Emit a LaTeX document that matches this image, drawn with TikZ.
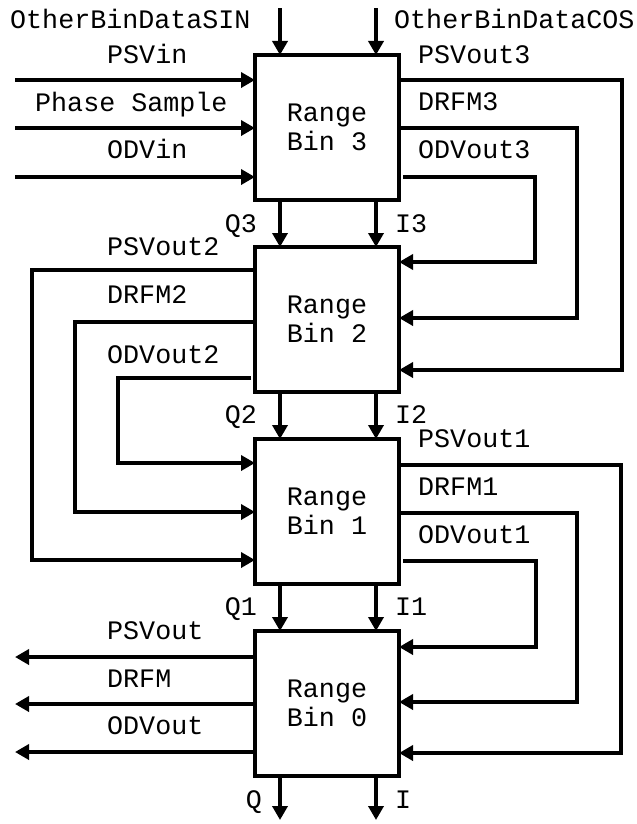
\documentclass[tikz,border=0pt]{standalone}
\usepackage{fontspec}
\setmonofont{Liberation Mono}
\usetikzlibrary{arrows,%
                arrows.meta}
\tikzstyle{rbin}=[rectangle, draw, line width=4bp, minimum width=144bp, minimum height=145bp, inner sep=0pt, outer sep=0pt, align=center, font=\ttfamily\fontsize{26.7bp}{29bp}\selectfont]
\tikzstyle{sig}=[line width=3.6bp, -{Triangle[length=14bp,width=15bp]}]
\tikzstyle{lbl}=[inner sep=0pt, font=\ttfamily\fontsize{26.7bp}{29bp}\selectfont]

\begin{document}
\begin{tikzpicture}[x=1bp,y=-1bp]
  \useasboundingbox (0,0) rectangle (637,824);
  \node[rbin] (rb3) at (327,127.5) {Range\\Bin 3};
  \node[rbin] (rb2) at (327,319.5) {Range\\Bin 2};
  \node[rbin] (rb1) at (327,511.5) {Range\\Bin 1};
  \node[rbin] (rb0) at (327,703.5) {Range\\Bin 0};

  \coordinate (sin) at (280,8);
  \coordinate (cos) at (376,8);
  \coordinate (qout) at (280,820);
  \coordinate (iout) at (376,820);
  \coordinate (psvin) at (15,80);
  \coordinate (phin) at (15,128);
  \coordinate (odvin) at (15,177);
  \coordinate (psvout) at (15,657);
  \coordinate (drfmout) at (15,704);
  \coordinate (odvout) at (15,752);

  % Q and I chain
  \draw[sig] (sin) -- (sin |- rb3.north);
  \draw[sig] (cos) -- (cos |- rb3.north);
  \draw[sig] (rb3.south -| sin) -- (rb2.north -| sin);
  \draw[sig] (rb3.south -| cos) -- (rb2.north -| cos);
  \draw[sig] (rb2.south -| sin) -- (rb1.north -| sin);
  \draw[sig] (rb2.south -| cos) -- (rb1.north -| cos);
  \draw[sig] (rb1.south -| sin) -- (rb0.north -| sin);
  \draw[sig] (rb1.south -| cos) -- (rb0.north -| cos);
  \draw[sig] (rb0.south -| qout) -- (qout);
  \draw[sig] (rb0.south -| iout) -- (iout);

  \draw[sig] (psvin) -- (psvin -| rb3.west);
  \draw[sig] (phin) -- (phin -| rb3.west);
  \draw[sig] (odvin) -- (odvin -| rb3.west);

  \draw[sig] (rb3.east |- 0,80) -| (622,370) -- (rb2.east |- 0,370);
  \draw[sig] (rb3.east |- 0,128) -| (577,318) -- (rb2.east |- 0,318);
  \draw[sig, shorten <=4bp] (rb3.east |- 0,177) -| (535,262) -- (rb2.east |- 0,262);

  \draw[sig] (rb2.west |- 0,270) -| (32,560) -- (rb1.west |- 0,560);
  \draw[sig] (rb2.west |- 0,322) -| (75,512) -- (rb1.west |- 0,512);
  \draw[sig, shorten <=4bp] (rb2.west |- 0,378) -| (118,463) -- (rb1.west |- 0,463);

  \draw[sig] (rb1.east |- 0,465) -| (621,753) -- (rb0.east |- 0,753);
  \draw[sig] (rb1.east |- 0,513) -| (577,702) -- (rb0.east |- 0,702);
  \draw[sig, shorten <=4bp] (rb1.east |- 0,561) -| (536,647) -- (rb0.east |- 0,647);

  \draw[sig] (psvout -| rb0.west) -- (psvout);
  \draw[sig] (drfmout -| rb0.west) -- (drfmout);
  \draw[sig] (odvout -| rb0.west) -- (odvout);

  \node[lbl, anchor=base west] (tsin) at (10,28) {OtherBinDataSIN};
  \node[lbl, anchor=base west] (tcos) at (394,28) {OtherBinDataCOS};
  \node[lbl, anchor=base west] (tpsvin) at (107,63) {PSVin};
  \node[lbl, anchor=base west] (tphase) at (35,111) {Phase Sample};
  \node[lbl, anchor=base west] (todvin) at (107,158) {ODVin};
  \node[lbl, anchor=base west] (tpsv3) at (418,63) {PSVout3};
  \node[lbl, anchor=base west] (tdrfm3) at (418,110) {DRFM3};
  \node[lbl, anchor=base west] (todv3) at (418,158) {ODVout3};
  \node[lbl, anchor=base east] (tq3) at (257,232) {Q3};
  \node[lbl, anchor=base west] (ti3) at (395,232) {I3};
  \node[lbl, anchor=base west] (tpsv2) at (107,255) {PSVout2};
  \node[lbl, anchor=base west] (tdrfm2) at (107,303) {DRFM2};
  \node[lbl, anchor=base west] (todv2) at (107,363) {ODVout2};
  \node[lbl, anchor=base east] (tq2) at (257,423) {Q2};
  \node[lbl, anchor=base west] (ti2) at (395,423) {I2};
  \node[lbl, anchor=base west] (tpsv1) at (418,447) {PSVout1};
  \node[lbl, anchor=base west] (tdrfm1) at (418,495) {DRFM1};
  \node[lbl, anchor=base west] (todv1) at (418,543) {ODVout1};
  \node[lbl, anchor=base east] (tq1) at (257,615) {Q1};
  \node[lbl, anchor=base west] (ti1) at (395,615) {I1};
  \node[lbl, anchor=base west] (tpsv) at (107,639) {PSVout};
  \node[lbl, anchor=base west] (tdrfm) at (107,687) {DRFM};
  \node[lbl, anchor=base west] (todv) at (107,734) {ODVout};
  \node[lbl, anchor=base east] (tq) at (262,808) {Q};
  \node[lbl, anchor=base west] (ti) at (395,808) {I};
\end{tikzpicture}
\end{document}
